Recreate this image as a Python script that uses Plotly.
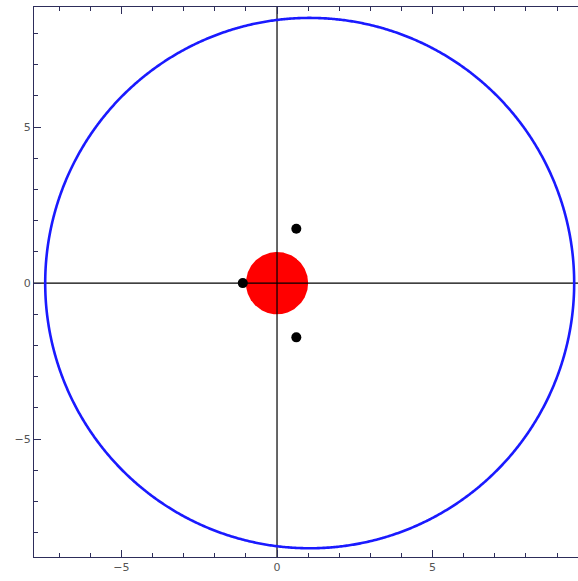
import numpy as np
import plotly.graph_objects as go

# data
circle_center = (1.05, 0.0)
circle_radius = 8.5
disk_center = (0.0, 0.0)
disk_radius = 1.0
points_x = [-1.1, 0.62, 0.62]
points_y = [0.0, 1.74, -1.74]
x_range = [-7.81, 9.93]
y_range = [-8.78, 8.85]
tick_vals = [-5, 0, 5]

t = np.linspace(0, 2 * np.pi, 1200)
fig = go.Figure()

# red disk
fig.add_trace(go.Scatter(
    x=disk_center[0] + disk_radius * np.cos(t),
    y=disk_center[1] + disk_radius * np.sin(t),
    mode="lines", fill="toself", fillcolor="#ff0000",
    line=dict(color="#ff0000", width=0), hoverinfo="skip"))

# axes lines
fig.add_trace(go.Scatter(x=x_range, y=[0, 0], mode="lines",
                         line=dict(color="black", width=1.2), hoverinfo="skip"))
fig.add_trace(go.Scatter(x=[0, 0], y=y_range, mode="lines",
                         line=dict(color="black", width=1.2), hoverinfo="skip"))

# blue circle
fig.add_trace(go.Scatter(
    x=circle_center[0] + circle_radius * np.cos(t),
    y=circle_center[1] + circle_radius * np.sin(t),
    mode="lines", line=dict(color="#1a1aff", width=2.6, simplify=False),
    hoverinfo="skip"))

# points
fig.add_trace(go.Scatter(x=points_x, y=points_y, mode="markers",
                         marker=dict(color="black", size=10)))

axis_common = dict(
    showgrid=False, zeroline=False, showline=True, mirror="allticks",
    linecolor="#2d2d5a", linewidth=1.2, ticks="inside", ticklen=7,
    tickcolor="#2d2d5a", tickwidth=1, tickvals=tick_vals,
    tickfont=dict(family="DejaVu Sans", size=11, color="#555555"),
    minor=dict(ticks="inside", ticklen=4, dtick=1, tickcolor="#2d2d5a",
               showgrid=False),
)

fig.update_layout(
    width=590, height=581,
    margin=dict(l=34, r=4, t=7, b=24),
    paper_bgcolor="white", plot_bgcolor="white",
    showlegend=False,
    xaxis=dict(range=x_range, **axis_common),
    yaxis=dict(range=y_range, **axis_common),
)

fig.write_html("out.html",
               config={"displayModeBar": False},
               post_script="document.body.style.margin='0';document.body.style.overflow='hidden';")
